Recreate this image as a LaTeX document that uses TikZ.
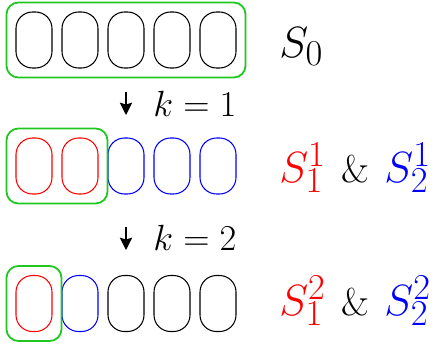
\documentclass[tikz,border=0pt]{standalone}
\usetikzlibrary{arrows.meta,fit}
\definecolor{setgreen}{RGB}{30,200,30}
\newcommand{\amp}{{\fontsize{22}{26}\selectfont\&}}

\begin{document}
\begin{tikzpicture}[
  elem/.style      = {draw, line width=0.6pt, rounded corners=0.33cm,
                      minimum width=0.72cm, minimum height=1.12cm, inner sep=0pt},
  subset/.style    = {draw=setgreen, line width=1pt, rounded corners=0.24cm,
                      inner sep=0.18cm},   % the part that is kept at this step
  split/.style     = {line width=0.8pt, -{Stealth[length=7pt,width=7pt,inset=1pt]}},
  stepk/.style     = {anchor=base west, inner sep=0pt, font=\fontsize{20}{24}\selectfont},
  setlbl/.style    = {anchor=base west, inner sep=0pt, font=\fontsize{29}{34}\selectfont},
]
  \useasboundingbox (0,0) rectangle (8.7,6.92);

  % row 0: the whole set
  \node[elem] (a1) at (0.68,6.12) {};
  \node[elem] (a2) at (1.60,6.12) {};
  \node[elem] (a3) at (2.52,6.12) {};
  \node[elem] (a4) at (3.44,6.12) {};
  \node[elem] (a5) at (4.36,6.12) {};
  \node[subset, fit=(a1)(a5)] (g0) {};
  \node[setlbl] (s0) at (5.58,5.78) {$S_0$};

  % row 1: split in two
  \node[elem, red]  (b1) at (0.68,3.6) {};
  \node[elem, red]  (b2) at (1.60,3.6) {};
  \node[elem, blue] (b3) at (2.52,3.6) {};
  \node[elem, blue] (b4) at (3.44,3.6) {};
  \node[elem, blue] (b5) at (4.36,3.6) {};
  \node[subset, fit=(b1)(b2)] (g1) {};
  \node[setlbl] (s1) at (5.58,3.28) {{\color{red}$S_1^1$} \amp{} {\color{blue}$S_2^1$}};

  % row 2: the kept part split again
  \node[elem, red]  (c1) at (0.68,0.85) {};
  \node[elem, blue] (c2) at (1.60,0.85) {};
  \node[elem]       (c3) at (2.52,0.85) {};
  \node[elem]       (c4) at (3.44,0.85) {};
  \node[elem]       (c5) at (4.36,0.85) {};
  \node[subset, fit=(c1)] (g2) {};
  \node[setlbl] (s2) at (5.58,0.62) {{\color{red}$S_1^2$} \amp{} {\color{blue}$S_2^2$}};

  % the steps between rows
  \coordinate (k1top) at (2.52,5.08);
  \coordinate (k1bot) at (2.52,4.62);
  \draw[split] (k1top) -- (k1bot);
  \node[stepk] (k1) at (3.06,4.6) {$k=1$};

  \coordinate (k2top) at (2.52,2.38);
  \coordinate (k2bot) at (2.52,1.92);
  \draw[split] (k2top) -- (k2bot);
  \node[stepk] (k2) at (3.06,1.92) {$k=2$};
\end{tikzpicture}
\end{document}
